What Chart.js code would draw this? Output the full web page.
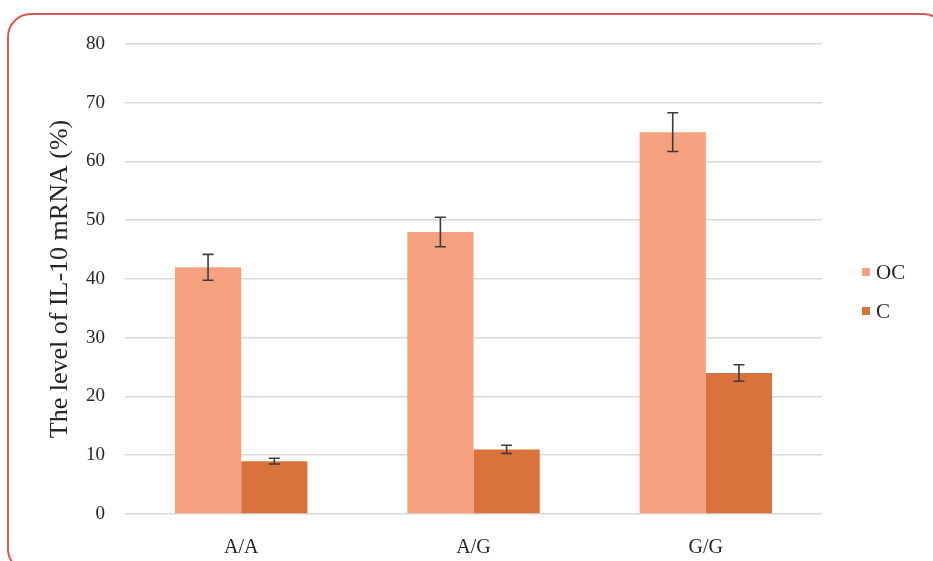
<!DOCTYPE html>
<html>
<head>
<meta charset="utf-8">
<script src="https://cdn.jsdelivr.net/npm/chart.js@4.4.1/dist/chart.umd.min.js"></script>
<style>
  html, body { margin: 0; padding: 0; background: #ffffff; }
  #wrap { position: relative; width: 933px; height: 561px; overflow: hidden; }
  #frame {
    position: absolute; left: 7px; top: 13px; width: 940px; height: 560px;
    border: 2.5px solid #dc5656; border-radius: 24px; box-sizing: border-box;
    pointer-events: none;
  }
  canvas { position: absolute; left: 0; top: 0; }
</style>
</head>
<body>
<div id="wrap">
  <div id="frame"></div>
  <canvas id="chart" width="933" height="561"></canvas>
</div>
<script>
// Genotype groups and IL-10 mRNA levels (%) with their error ranges
const genotypes = ["A/A", "A/G", "G/G"];
const seriesNames = ["OC", "C"];
const ocValues = [42, 48, 65];
const ocErrors = [2.2, 2.5, 3.3];
const cValues = [9, 11, 24];
const cErrors = [0.5, 0.7, 1.4];
const yTicks = [0, 10, 20, 30, 40, 50, 60, 70, 80];

const serif = '"Liberation Serif", "Times New Roman", serif';
const textColor = '#262626';

// Draws the +/- error whiskers on top of each bar
const errorBars = {
  id: 'errorBars',
  afterDatasetsDraw(chart) {
    const { ctx } = chart;
    const y = chart.scales.y;
    ctx.save();
    ctx.strokeStyle = '#3c3c3c';
    ctx.lineWidth = 1.6;
    chart.data.datasets.forEach((ds, di) => {
      const meta = chart.getDatasetMeta(di);
      meta.data.forEach((bar, i) => {
        const v = ds.data[i];
        const e = ds.errors[i];
        const yTop = y.getPixelForValue(v + e);
        const yBot = y.getPixelForValue(v - e);
        const x = bar.x;
        const cap = 5.5;
        ctx.beginPath();
        ctx.moveTo(x, yTop); ctx.lineTo(x, yBot);
        ctx.moveTo(x - cap, yTop); ctx.lineTo(x + cap, yTop);
        ctx.moveTo(x - cap, yBot); ctx.lineTo(x + cap, yBot);
        ctx.stroke();
      });
    });
    ctx.restore();
  }
};

// Vertical legend placed to the right of the plot area
const sideLegend = {
  id: 'sideLegend',
  afterDraw(chart) {
    const { ctx, chartArea } = chart;
    ctx.save();
    ctx.font = '21px ' + serif;
    ctx.textBaseline = 'middle';
    ctx.textAlign = 'left';
    const x0 = chartArea.right + 40;
    const yStart = 272;
    const step = 39;
    chart.data.datasets.forEach((ds, i) => {
      const yy = yStart + i * step;
      ctx.fillStyle = ds.backgroundColor;
      ctx.fillRect(x0, yy - 4, 8, 8);
      ctx.fillStyle = textColor;
      ctx.fillText(ds.label, x0 + 14, yy + 1);
    });
    ctx.restore();
  }
};

new Chart(document.getElementById('chart'), {
  type: 'bar',
  data: {
    labels: genotypes,
    datasets: [
      { label: seriesNames[0], data: ocValues, errors: ocErrors, backgroundColor: '#f5a07f' },
      { label: seriesNames[1], data: cValues, errors: cErrors, backgroundColor: '#d9733b' }
    ]
  },
  options: {
    responsive: false,
    animation: false,
    devicePixelRatio: 1,
    categoryPercentage: 0.57,
    barPercentage: 1.0,
    layout: { padding: { left: 38, right: 111, top: 44, bottom: 0 } },
    plugins: {
      legend: { display: false },
      tooltip: { enabled: false }
    },
    scales: {
      x: {
        grid: { display: false },
        border: { display: false },
        ticks: { color: textColor, font: { family: serif, size: 20 }, padding: 14 },
        afterFit(s) { s.height = 47; }
      },
      y: {
        min: 0, max: 80,
        afterBuildTicks(s) { s.ticks = yTicks.map(v => ({ value: v })); },
        grid: { color: '#d9d9d9', lineWidth: 1.6, drawTicks: false },
        border: { display: false },
        ticks: { color: textColor, font: { family: serif, size: 19 }, padding: 20 },
        title: {
          display: true,
          text: 'The level of IL-10 mRNA (%)',
          color: textColor,
          font: { family: serif, size: 26 },
          padding: { top: 7, bottom: 0 }
        },
        afterFit(s) { s.width = 87; }
      }
    }
  },
  plugins: [errorBars, sideLegend]
});
</script>
</body>
</html>
